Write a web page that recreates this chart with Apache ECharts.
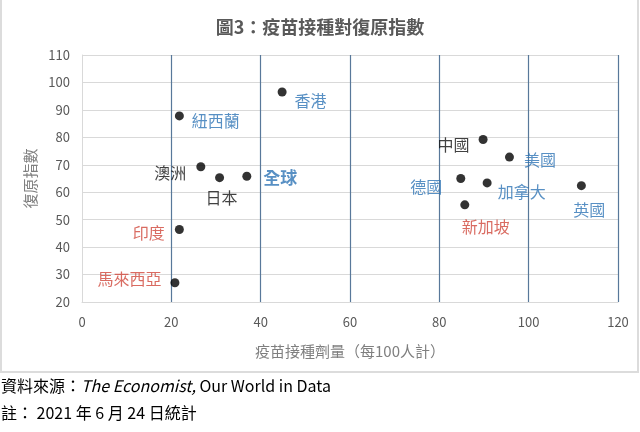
<!DOCTYPE html>
<html><head><meta charset="utf-8">
<script src="https://cdn.jsdelivr.net/npm/echarts@6/dist/echarts.min.js"></script>
<style>html,body{margin:0;padding:0;background:#fff}#c{width:640px;height:432px}</style>
</head><body><div id="c"></div>
<script>
const names = ['香港','紐西蘭','澳洲','日本','全球','印度','馬來西亞','中國','美國','德國','加拿大','新加坡','英國'];
const doses = [44.8, 21.8, 26.6, 30.8, 36.9, 21.8, 20.8, 89.8, 95.7, 84.8, 90.7, 85.7, 111.8];
const recovery = [96.5, 87.8, 69.3, 65.3, 65.8, 46.4, 27.0, 79.2, 72.8, 65.0, 63.4, 55.4, 62.4];
const groups = ['blue','blue','black','black','blue','red','red','black','blue','blue','blue','red','blue'];
const xTicks = [0, 20, 40, 60, 80, 100, 120];
const yTicks = [20, 30, 40, 50, 60, 70, 80, 90, 100, 110];

const colorMap = {blue:'#2e74b5', red:'#d0463a', black:'#111'};
const labelPos = {
  '香港':{position:'right',offset:[3,9]},
  '紐西蘭':{position:'right',offset:[3,5]},
  '澳洲':{position:'left',offset:[-5,6]},
  '日本':{position:'bottom',offset:[2,3]},
  '全球':{position:'right',offset:[7,1],fontWeight:'bold',fontSize:17},
  '印度':{position:'left',offset:[-5,3]},
  '馬來西亞':{position:'left',offset:[-4,-4]},
  '中國':{position:'left',offset:[-4,5]},
  '美國':{position:'right',offset:[5,3]},
  '德國':{position:'left',offset:[-9,8]},
  '加拿大':{position:'right',offset:[1,9]},
  '新加坡':{position:'bottom',offset:[21,5]},
  '英國':{position:'bottom',offset:[8,7]}
};

const data = names.map((n,i)=>({
  name:n, value:[doses[i], recovery[i]],
  label:Object.assign({show:true, formatter:'{b}', color:colorMap[groups[i]], fontSize:16,
    fontFamily:'Noto Sans CJK TC'}, labelPos[n])
}));

const chart = echarts.init(document.getElementById('c'));
chart.setOption({
  animation:false,
  title:{text:'圖3：疫苗接種對復原指數', left:'center', top:13,
    textStyle:{fontSize:18, fontWeight:'bold', color:'#595959', fontFamily:'Noto Sans CJK TC'}},
  grid:{left:82, right:22, top:55, bottom:130},
  xAxis:{type:'value', min:xTicks[0], max:xTicks[xTicks.length-1], interval:20,
    name:'疫苗接種劑量（每100人計）', nameLocation:'middle', nameGap:42,
    nameTextStyle:{color:'#7f7f7f', fontSize:15, fontFamily:'Noto Sans CJK TC'},
    axisLine:{show:true, lineStyle:{color:'#d9d9d9'}}, axisTick:{show:false},
    axisLabel:{color:'#595959', fontSize:13, margin:14, fontFamily:'Noto Sans CJK TC'},
    splitLine:{show:true, showMinLine:false, lineStyle:{color:'#58789a', width:1.2}}},
  yAxis:{type:'value', min:yTicks[0], max:yTicks[yTicks.length-1], interval:10,
    name:'復原指數', nameLocation:'middle', nameGap:42,
    nameTextStyle:{color:'#7f7f7f', fontSize:15, fontFamily:'Noto Sans CJK TC'},
    axisLine:{show:true, lineStyle:{color:'#d9d9d9'}}, axisTick:{show:false},
    axisLabel:{color:'#595959', fontSize:13, margin:12, fontFamily:'Noto Sans CJK TC'},
    splitLine:{show:true, lineStyle:{color:'#d9d9d9'}}},
  series:[{type:'scatter', symbolSize:9, itemStyle:{color:'#000'}, data:data}],
  graphic:[
    {type:'rect', shape:{x:1, y:-2, width:637, height:374}, style:{fill:'none', stroke:'#dcdcdc', lineWidth:2}, z:-1},
    {type:'text', left:1, top:378, style:{
      text:'資料來源：{i|The Economist,} Our World in Data',
      fontSize:16, fill:'#000', fontFamily:'Noto Sans CJK TC',
      rich:{i:{fontStyle:'italic', fontSize:16, fontFamily:'Noto Sans CJK TC', fill:'#000'}}}},
    {type:'text', left:1, top:405, style:{
      text:'註： 2021 年 6 月 24 日統計', fontSize:16, fill:'#000', fontFamily:'Noto Sans CJK TC'}}
  ]
});
</script></body></html>
